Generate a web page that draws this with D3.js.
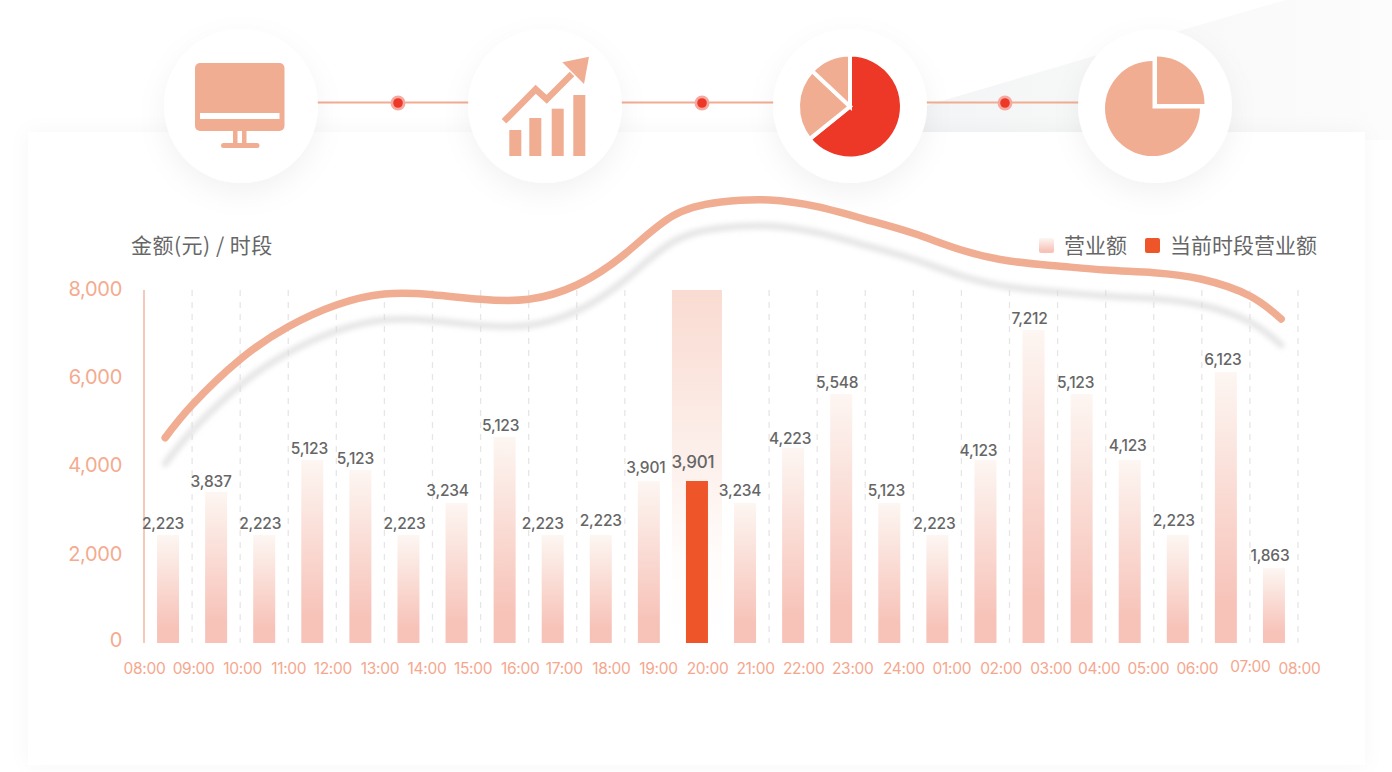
<!DOCTYPE html>
<html>
<head>
<meta charset="utf-8">
<script src="https://cdnjs.cloudflare.com/ajax/libs/d3/7.8.5/d3.min.js"></script>
<style>
  html, body { margin: 0; padding: 0; background: #fff; overflow: hidden; }
  svg { display: block; font-family: Inter, "Noto Sans CJK SC", sans-serif; }
  .axis path, .axis line { display: none; }
  .cn { font-family: "Noto Sans CJK SC", sans-serif; fill: #666; }
</style>
</head>
<body>
<svg width="1392" height="772"></svg>
<script>
// data
var hours = ["08:00", "09:00", "10:00", "11:00", "12:00", "13:00", "14:00", "15:00", "16:00", "17:00", "18:00", "19:00", "20:00",
  "21:00", "22:00", "23:00", "24:00", "01:00", "02:00", "03:00", "04:00", "05:00", "06:00", "07:00", "08:00"];
var barValues = [2447, 3422, 2447, 4147, 3920, 2447, 3172, 4668, 2447, 2447, 3671, 3671,
  3172, 4419, 5642, 3172, 2447, 4147, 7093, 5642, 4147, 2447, 6141, 1700];
var barLabels = ["2,223", "3,837", "2,223", "5,123", "5,123", "2,223", "3,234", "5,123", "2,223", "2,223", "3,901", "3,901",
  "3,234", "4,223", "5,548", "5,123", "2,223", "4,123", "7,212", "5,123", "4,123", "2,223", "6,123", "1,863"];
var curveSlots = [0.44, 1, 2, 3, 4, 5, 6, 7, 8, 9, 10, 11, 12, 13, 14, 15, 16, 17, 18, 19, 20, 21, 22, 23, 23.65];
var curveValues = [4653, 5394, 6429, 7168, 7660, 7909, 7893, 7789, 7789, 8113, 8816, 9680, 9994, 10040, 9888,
  9602, 9285, 8907, 8657, 8544, 8453, 8392, 8243, 7864, 7343];
var yTicks = [0, 2000, 4000, 6000, 8000];
var current = 11;
var pieA = [64.2, 22.8, 13];
var pieB = [25, 75];

// the reference's labels sit a little off their marks, nudges in px
var hourNudge = [0, 1, 2, 0, -4, -5, -6, -8, -9, -13, -14, -15, -14, -14, -14, -13, -10, -10, -9, -7, -7, -6, -5, 0, 1];
var labelNudgeX = [-5, -5, -4, -3, -5, -4, -9, -4, -10, 0, -3, -4, -5, -3, -4, -3, -3, -7, -4, -6, -2, -4, -3, -4];
var labelGap = [11, 10, 11, 11, 11, 11, 12, 11, 11, 14, 13, 19, 12, 9, 11, 12, 11, 9, 11, 11, 14, 14, 12, 12];

var accent = "#f0ad92", red = "#ed3727", orange = "#ee5528";

var svg = d3.select("svg"),
  margin = { top: 290, right: 94, bottom: 129, left: 144 },
  width = svg.attr("width") - margin.left - margin.right,
  height = svg.attr("height") - margin.top - margin.bottom;

var defs = svg.append("defs");

function gradient(id, stops) {
  var g = defs.append("linearGradient").attr("id", id)
    .attr("x1", 0).attr("y1", 0).attr("x2", 0).attr("y2", 1);
  stops.forEach(function(s) {
    g.append("stop").attr("offset", s[0]).attr("stop-color", s[1]);
  });
}
gradient("barFill", [[0, "#fdf6f2"], [0.85, "#f7c3b9"], [1, "#f7c3b9"]]);
gradient("bandFill", [[0, "#f9dbd1"], [0.78, "#fffdfc"], [1, "#fff"]]);

var wedge = defs.append("linearGradient").attr("id", "wedgeFill")
  .attr("x1", 0).attr("y1", 0).attr("x2", 1).attr("y2", 0);
wedge.append("stop").attr("offset", 0).attr("stop-color", "#f3f4f5");
wedge.append("stop").attr("offset", 1).attr("stop-color", "#fcfcfc");

defs.append("filter").attr("id", "soft").attr("x", "-30%").attr("y", "-30%").attr("width", "160%").attr("height", "160%")
  .append("feDropShadow").attr("dx", 0).attr("dy", 10).attr("stdDeviation", 14)
  .attr("flood-color", "#000").attr("flood-opacity", 0.05);
defs.append("filter").attr("id", "card").attr("x", "-5%").attr("y", "-5%").attr("width", "110%").attr("height", "110%")
  .append("feDropShadow").attr("dx", 0).attr("dy", 0).attr("stdDeviation", 10)
  .attr("flood-color", "#000").attr("flood-opacity", 0.035);
defs.append("filter").attr("id", "blur").attr("x", "-5%").attr("y", "-20%").attr("width", "110%").attr("height", "140%")
  .append("feGaussianBlur").attr("stdDeviation", 2.6);

// backdrop
svg.append("path").attr("d", "M880,119L1285,0H1392V140H880Z").attr("fill", "url(#wedgeFill)");
svg.append("rect").attr("x", 28).attr("y", 132).attr("width", 1337).attr("height", 633)
  .attr("fill", "#fff").attr("filter", "url(#card)");

// icon row
var iconX = [241, 545, 850, 1155], iconY = 106, dotX = [398, 702, 1005];
svg.append("g").selectAll("line").data(d3.pairs(iconX)).enter().append("line")
  .attr("x1", function(d) { return d[0]; })
  .attr("x2", function(d) { return d[1]; })
  .attr("y1", 102.5).attr("y2", 102.5)
  .attr("stroke", accent).attr("stroke-width", 2);
var dots = svg.append("g").selectAll("g").data(dotX).enter().append("g")
  .attr("transform", function(d) { return "translate(" + d + ",103)"; });
dots.append("circle").attr("r", 7.5).attr("fill", "#f6a9a0");
dots.append("circle").attr("r", 4.8).attr("fill", red);

svg.append("g").selectAll("circle").data(iconX).enter().append("circle")
  .attr("cx", function(d) { return d; }).attr("cy", iconY).attr("r", 77)
  .attr("fill", "#fff").attr("filter", "url(#soft)");

// monitor
var monitor = svg.append("g").attr("fill", accent);
monitor.append("rect").attr("x", 195).attr("y", 63).attr("width", 89.5).attr("height", 68).attr("rx", 5);
monitor.append("rect").attr("x", 200).attr("y", 113).attr("width", 79.5).attr("height", 6).attr("fill", "#fff");
monitor.append("rect").attr("x", 233).attr("y", 131).attr("width", 4.5).attr("height", 13);
monitor.append("rect").attr("x", 242).attr("y", 131).attr("width", 4.5).attr("height", 13);
monitor.append("rect").attr("x", 221).attr("y", 143).attr("width", 38.5).attr("height", 5).attr("rx", 2.5);

// rising bars
var rising = svg.append("g").attr("fill", accent);
rising.append("rect").attr("x", 509.3).attr("y", 130).attr("width", 12).attr("height", 26);
rising.append("rect").attr("x", 529.3).attr("y", 118).attr("width", 12).attr("height", 38);
rising.append("rect").attr("x", 551.7).attr("y", 108.7).attr("width", 12).attr("height", 47.3);
rising.append("rect").attr("x", 573.3).attr("y", 95).attr("width", 12).attr("height", 61);
rising.append("path").attr("d", "M504,121.3L535.7,89.3L546.7,99.3L572,74")
  .attr("fill", "none").attr("stroke", accent).attr("stroke-width", 6.5);
rising.append("path").attr("d", "M562.3,62.3L589,56.7L584,84Z");

// pies
var pie = d3.pie().sort(null);
var arcA = d3.arc().innerRadius(0).outerRadius(52);
svg.append("g").attr("transform", "translate(850,106.5)")
  .selectAll("path").data(pie(pieA)).enter().append("path")
  .attr("d", arcA)
  .attr("fill", function(d, i) { return i == 0 ? red : accent; })
  .attr("stroke", "#fff").attr("stroke-width", 4);

var piecesB = pie(pieB);
var arcB = d3.arc().innerRadius(0).outerRadius(47.5);
svg.append("path").attr("transform", "translate(1157,104)").attr("d", arcB(piecesB[0])).attr("fill", accent);
svg.append("path").attr("transform", "translate(1152.5,108.5)").attr("d", arcB(piecesB[1])).attr("fill", accent);

// chart
var g = svg.append("g").attr("transform", "translate(" + margin.left + "," + margin.top + ")");

var x = d3.scaleLinear().domain([0, hours.length - 1]).range([0, width]),
  band = d3.scaleBand().domain(d3.range(barValues.length)).range([0, width]),
  y = d3.scaleLinear().domain([0, 8000]).range([height, 0]);
var barWidth = 22;

g.append("g").selectAll("line").data(d3.range(1, hours.length)).enter().append("line")
  .attr("x1", function(d) { return x(d); })
  .attr("x2", function(d) { return x(d); })
  .attr("y1", 0).attr("y2", height)
  .attr("stroke", "#e6e6e6").attr("stroke-width", 1.3).attr("stroke-dasharray", "6,6");

g.append("line").attr("y1", 0).attr("y2", height).attr("stroke", "#f3b9a1").attr("stroke-width", 1.5);

var yAxis = g.append("g").attr("class", "axis")
  .call(d3.axisLeft(y).tickValues(yTicks).tickFormat(d3.format(",")).tickSize(0).tickPadding(22));
yAxis.selectAll("text")
  .attr("fill", "#f4ab8f").attr("font-size", 20).attr("font-family", "Inter")
  .attr("letter-spacing", -0.3)
  .attr("y", function(d) { return d == 0 ? -3 : -1; });

var xAxis = g.append("g").attr("class", "axis").attr("transform", "translate(0," + height + ")")
  .call(d3.axisBottom(x).tickValues(d3.range(hours.length)).tickFormat(function(i) { return hours[i]; }).tickSize(0).tickPadding(0));
xAxis.selectAll("text")
  .attr("fill", "#f5a78e").attr("font-size", 15.5).attr("font-family", "Inter")
  .attr("letter-spacing", -0.3)
  .attr("x", function(i) { return hourNudge[i]; })
  .attr("y", function(i) { return i == 23 ? 24 : 26; })
  .attr("dy", ".35em");

// highlight column behind the current slot
g.append("rect")
  .attr("x", band(current) + band.bandwidth() / 2 - 25).attr("width", 50)
  .attr("y", 0).attr("height", height)
  .attr("fill", "url(#bandFill)");

g.selectAll(".bar").data(barValues).enter().append("rect")
  .attr("class", "bar")
  .attr("x", function(d, i) { return band(i) + (band.bandwidth() - barWidth) / 2; })
  .attr("width", barWidth)
  .attr("y", function(d) { return y(d); })
  .attr("height", function(d) { return height - y(d); })
  .attr("fill", function(d, i) { return i == current ? orange : "url(#barFill)"; });

g.selectAll(".label").data(barLabels).enter().append("text")
  .attr("class", "label")
  .attr("x", function(d, i) { return band(i) + band.bandwidth() / 2 + labelNudgeX[i]; })
  .attr("y", function(d, i) { return y(barValues[i]) - labelGap[i]; })
  .attr("dy", ".35em")
  .attr("text-anchor", "middle")
  .attr("font-size", function(d, i) { return i == current ? 17 : 15.5; })
  .attr("font-weight", 500)
  .attr("letter-spacing", -0.2)
  .attr("fill", "#666")
  .text(function(d) { return d; });

// trend curve and its shadow
var line = d3.line()
  .curve(d3.curveNatural)
  .x(function(d, i) { return x(curveSlots[i]); })
  .y(function(d) { return y(d); });

g.append("path").attr("d", line(curveValues))
  .attr("transform", "translate(0,26)")
  .attr("fill", "none").attr("stroke", "#d9d9d9").attr("stroke-width", 7).attr("stroke-linecap", "round")
  .attr("filter", "url(#blur)").attr("opacity", 0.65);
g.append("path").attr("d", line(curveValues))
  .attr("fill", "none").attr("stroke", accent).attr("stroke-width", 7.5).attr("stroke-linecap", "round");

// title and legend
svg.append("text").attr("class", "cn").attr("x", 131).attr("y", 253).attr("font-size", 21).attr("letter-spacing", 0.5).text("金额(元) / 时段");
svg.append("rect").attr("x", 1039).attr("y", 238).attr("width", 15).attr("height", 15).attr("rx", 2).attr("fill", "url(#barFill)");
svg.append("text").attr("class", "cn").attr("x", 1064).attr("y", 253).attr("font-size", 21).text("营业额");
svg.append("rect").attr("x", 1145).attr("y", 238).attr("width", 15).attr("height", 15).attr("rx", 2).attr("fill", orange);
svg.append("text").attr("class", "cn").attr("x", 1170).attr("y", 253).attr("font-size", 21).text("当前时段营业额");
</script>
</body>
</html>
